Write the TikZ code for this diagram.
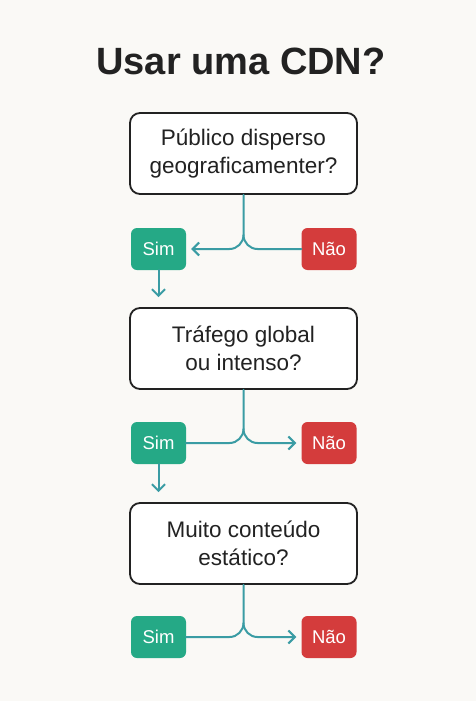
\documentclass[tikz,border=0pt]{standalone}
\usepackage{fontspec}
\setmainfont{Liberation Sans}
\usetikzlibrary{arrows.meta}
\definecolor{fundo}{HTML}{FAF9F6}
\definecolor{tinta}{HTML}{222222}
\definecolor{verde}{HTML}{25A986}
\definecolor{vermelho}{HTML}{D43C3C}
\definecolor{ligacao}{HTML}{3A9CA4}
\tikzset{>={Straight Barb[length=6.5pt,width=13pt,line width=2pt]}}
\tikzset{
  pergunta/.style={draw=tinta, line width=1.8pt, rounded corners=10pt, fill=white,
    minimum width=227pt, minimum height=81pt, inner sep=0pt, align=center,
    text=tinta, font=\fontsize{22.5}{28}\selectfont},
  resposta/.style={rounded corners=6pt, minimum width=55pt, minimum height=42pt,
    inner sep=0pt, text=white, font=\fontsize{18.5}{20}\selectfont},
  sim/.style={resposta, fill=verde},
  nao/.style={resposta, fill=vermelho},
  ligar/.style={draw=ligacao, line width=2pt, line cap=round}
}

\begin{document}
\begin{tikzpicture}[x=1pt,y=1pt]
	\fill[fundo] (0,0) rectangle (476,-701);
	\useasboundingbox (0,0) rectangle (476,-701);
	\node (titulo) at (241,-61) {\fontsize{38}{44}\selectfont\bfseries\color{tinta}Usar uma CDN?};
%	perguntas
	\node [pergunta] (q1) at (243.5,-153.5) {Público disperso\\geograficamenter?};
	\node [pergunta] (q2) at (243.5,-348.5) {Tráfego global\\ou intenso?};
	\node [pergunta] (q3) at (243.5,-543.5) {Muito conteúdo\\estático?};
%	respostas
	\node [sim] (s1) at (158.5,-249) {Sim};
	\node [nao] (n1) at (329,-249) {Não};
	\node [sim] (s2) at (158.5,-443) {Sim};
	\node [nao] (n2) at (329,-443) {Não};
	\node [sim] (s3) at (158.5,-637) {Sim};
	\node [nao] (n3) at (329,-637) {Não};
	\coordinate (j1) at (q1.south |- s1.east);
	\coordinate (j2) at (q2.south |- s2.east);
	\coordinate (j3) at (q3.south |- s3.east);
%	ligacoes
	\draw [ligar,->,shorten >=5pt] (q1.south) -- ([yshift=14pt]j1) to[out=-90,in=0] ([xshift=-14pt]j1) -- (s1.east);
	\draw [ligar] (n1.west) -- ([xshift=14pt]j1) to[out=180,in=-90] ([yshift=14pt]j1);
	\draw [ligar,->,shorten >=10pt] (s1.south) -- (q2.north -| s1.south);
	\draw [ligar] (s2.east) -- ([xshift=-14pt]j2) to[out=0,in=-90] ([yshift=14pt]j2) -- (q2.south);
	\draw [ligar,->,shorten >=5pt] ([yshift=14pt]j2) to[out=-90,in=180] ([xshift=14pt]j2) -- (n2.west);
	\draw [ligar,->,shorten >=10pt] (s2.south) -- (q3.north -| s2.south);
	\draw [ligar] (s3.east) -- ([xshift=-14pt]j3) to[out=0,in=-90] ([yshift=14pt]j3) -- (q3.south);
	\draw [ligar,->,shorten >=5pt] ([yshift=14pt]j3) to[out=-90,in=180] ([xshift=14pt]j3) -- (n3.west);
\end{tikzpicture}
\end{document}
